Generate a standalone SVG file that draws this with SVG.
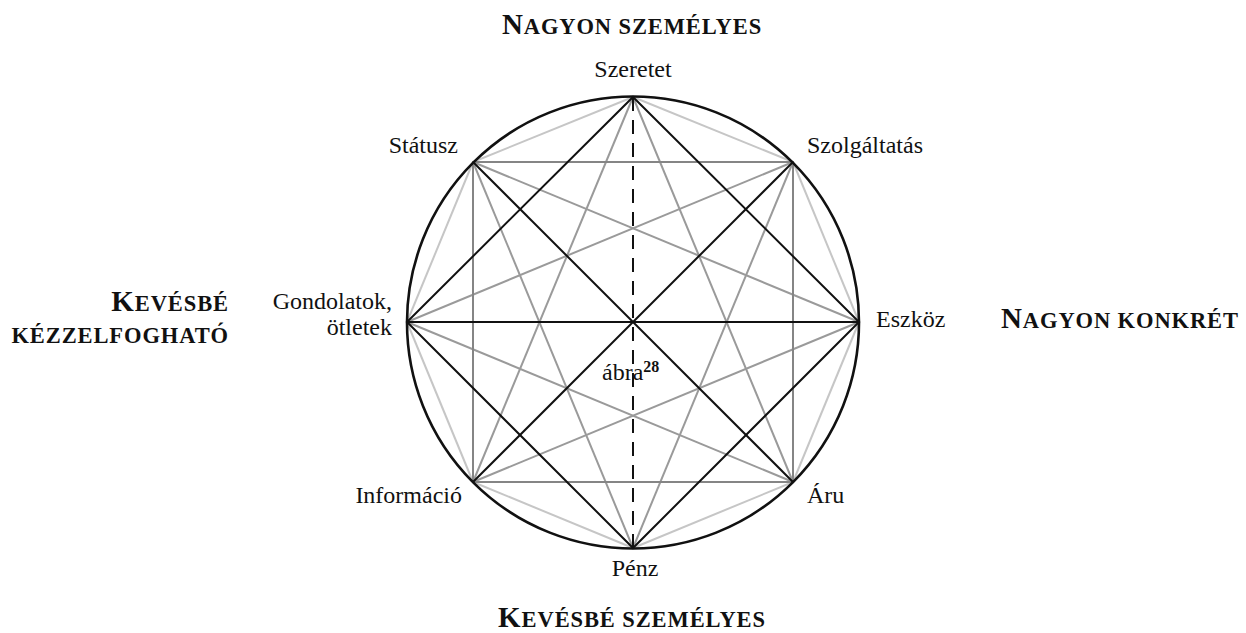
<svg xmlns="http://www.w3.org/2000/svg" width="1246" height="633" viewBox="0 0 1246 633">
<style>
.lbl{font-family:"Liberation Serif","Times New Roman",serif;font-size:24px;fill:#111}
.hd{font-family:"Liberation Serif","Times New Roman",serif;font-weight:bold;font-size:22.5px;fill:#111;letter-spacing:0.9px}
.big{font-size:29px}
.adj{stroke:#c6c6c6;stroke-width:2;fill:none}
.s3{stroke:#9a9a9a;stroke-width:2;fill:none}
.sq{stroke:#858585;stroke-width:2;fill:none}
.blk{stroke:#111;stroke-width:2;fill:none}
.dash{stroke:#111;stroke-width:2;stroke-dasharray:14 9;fill:none}
</style>
<rect width="1246" height="633" fill="#fff"/>
<g id="connectors">
<g id="adjacent">
<line class="adj" x1="633" y1="97" x2="793" y2="162"/>
<line class="adj" x1="793" y1="162" x2="859" y2="322"/>
<line class="adj" x1="859" y1="322" x2="793" y2="482"/>
<line class="adj" x1="793" y1="482" x2="633" y2="548"/>
<line class="adj" x1="633" y1="548" x2="473" y2="482"/>
<line class="adj" x1="473" y1="482" x2="407" y2="322"/>
<line class="adj" x1="407" y1="322" x2="473" y2="162"/>
<line class="adj" x1="473" y1="162" x2="633" y2="97"/>
</g>
<g id="step3">
<line class="s3" x1="633" y1="97" x2="793" y2="482"/>
<line class="s3" x1="793" y1="162" x2="633" y2="548"/>
<line class="s3" x1="859" y1="322" x2="473" y2="482"/>
<line class="s3" x1="793" y1="482" x2="407" y2="322"/>
<line class="s3" x1="633" y1="548" x2="473" y2="162"/>
<line class="s3" x1="473" y1="482" x2="633" y2="97"/>
<line class="s3" x1="407" y1="322" x2="793" y2="162"/>
<line class="s3" x1="473" y1="162" x2="859" y2="322"/>
</g>
<g id="square">
<polygon class="sq" points="473,162 793,162 793,482 473,482"/>
</g>
<g id="diamond">
<polygon class="blk" points="633,97 859,322 633,548 407,322"/>
</g>
<g id="diameters">
<line class="blk" x1="473" y1="162" x2="793" y2="482"/>
<line class="blk" x1="793" y1="162" x2="473" y2="482"/>
<line class="blk" x1="407" y1="322" x2="859" y2="322"/>
<line class="dash" x1="633" y1="97" x2="633" y2="548"/>
</g>
<circle cx="633" cy="322.5" r="226" fill="none" stroke="#111" stroke-width="2.6"/>
</g>
<g id="n-szeretet"><text class="lbl" x="633" y="77" text-anchor="middle">Szeretet</text></g>
<g id="n-szolgaltatas"><text class="lbl" x="807" y="153">Szolgáltatás</text></g>
<g id="n-eszkoz"><text class="lbl" x="876" y="327">Eszköz</text></g>
<g id="n-aru"><text class="lbl" x="807" y="503">Áru</text></g>
<g id="n-penz"><text class="lbl" x="635" y="576" text-anchor="middle">Pénz</text></g>
<g id="n-informacio"><text class="lbl" x="462" y="503" text-anchor="end">Információ</text></g>
<g id="n-gondolatok"><text class="lbl" x="392" y="309" text-anchor="end">Gondolatok,</text><text class="lbl" x="392" y="335" text-anchor="end">ötletek</text></g>
<g id="n-statusz"><text class="lbl" x="458" y="153" text-anchor="end">Státusz</text></g>
<g id="n-center"><text class="lbl" x="602" y="380">ábra<tspan font-weight="bold" font-size="16" dy="-8">28</tspan></text></g>
<g id="h-top"><text class="hd" x="632" y="34" text-anchor="middle"><tspan class="big">N</tspan>AGYON SZEMÉLYES</text></g>
<g id="h-bottom"><text class="hd" x="632" y="627" text-anchor="middle"><tspan class="big">K</tspan>EVÉSBÉ SZEMÉLYES</text></g>
<g id="h-left"><text class="hd" x="229" y="311" text-anchor="end"><tspan class="big">K</tspan>EVÉSBÉ</text><text class="hd" x="229" y="343" text-anchor="end">KÉZZELFOGHATÓ</text></g>
<g id="h-right"><text class="hd" x="1001" y="328"><tspan class="big">N</tspan>AGYON KONKRÉT</text></g>
</svg>
